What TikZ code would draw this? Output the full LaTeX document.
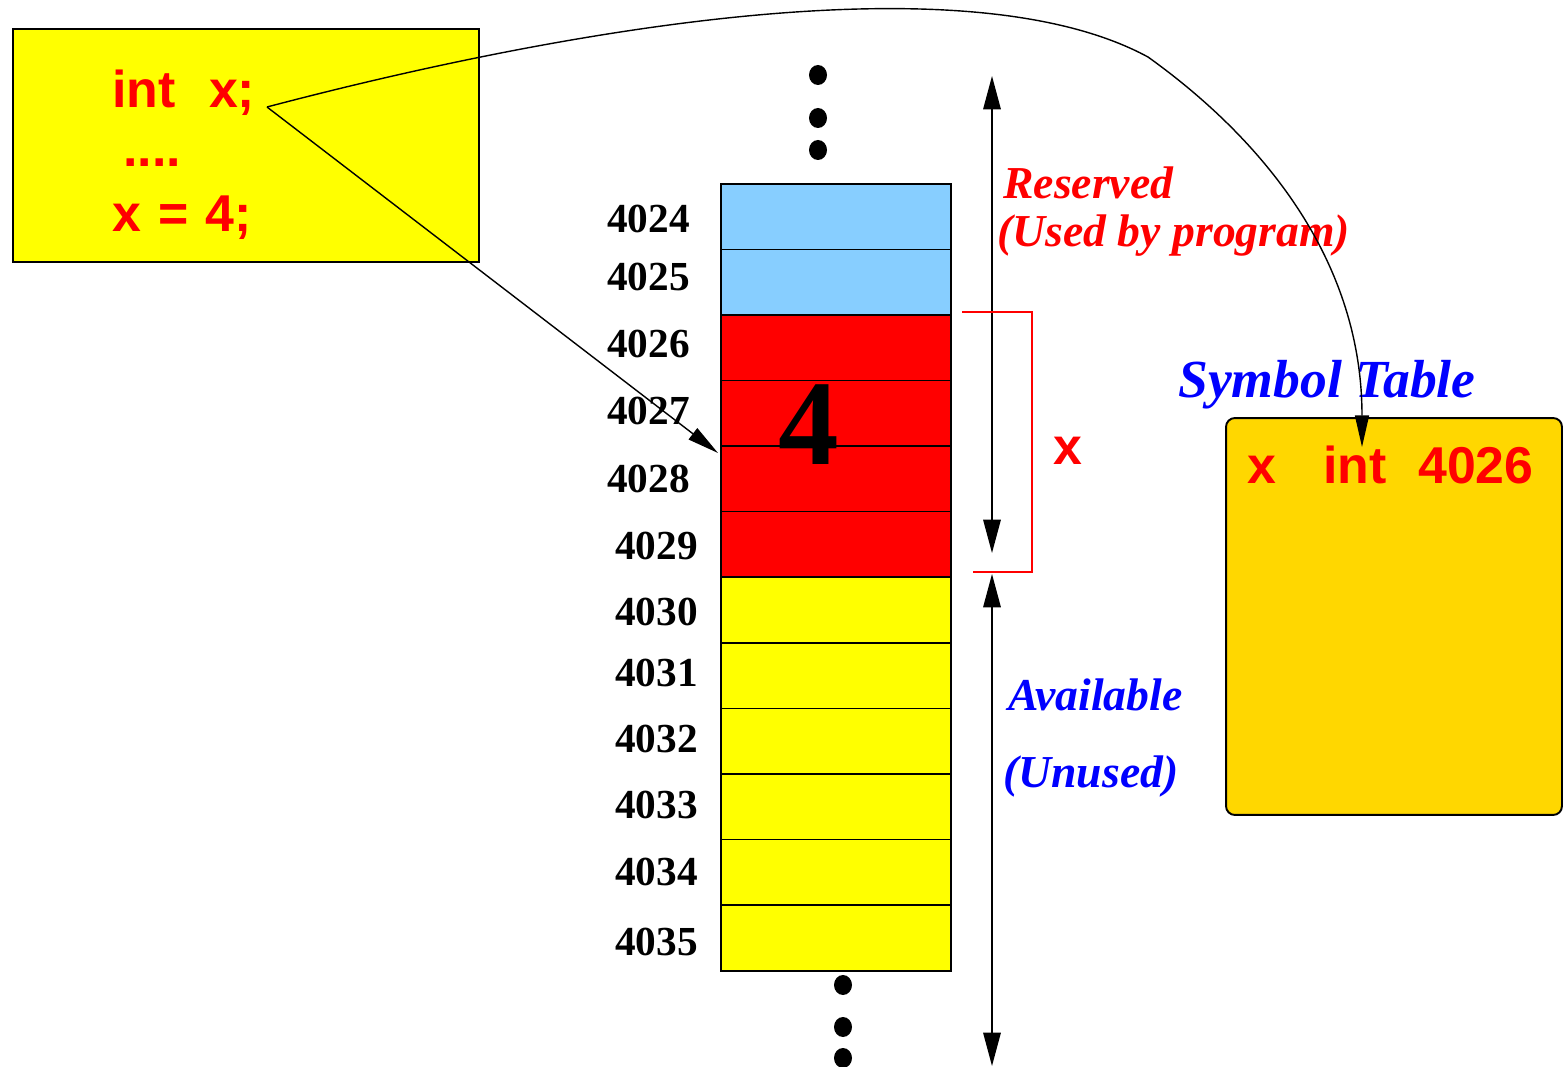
\documentclass[tikz,border=0pt]{standalone}
\usepackage{fontspec}
\setmainfont{Liberation Serif}
\newfontfamily\hv{Liberation Sans}
\usetikzlibrary{arrows.meta}
\definecolor{ltblue}{HTML}{87CEFF}
\definecolor{gold}{HTML}{FFD700}
\definecolor{myred}{HTML}{FF0000}
\definecolor{myyellow}{HTML}{FFFF00}
\definecolor{myblue}{HTML}{0000FF}
\begin{document}
\begin{tikzpicture}[x=0.02cm,y=-0.02cm,
  codetxt/.style={anchor=base west,inner sep=0pt,text=myred,font=\hv\bfseries\fontsize{29.5}{30}\selectfont},
  addr/.style={anchor=base east,inner sep=0pt,font=\bfseries\fontsize{23.5}{24}\selectfont},
  note/.style={anchor=base west,inner sep=0pt,font=\bfseries\itshape\fontsize{26}{26}\selectfont},
  cell/.style={draw=black,line width=0.9pt,minimum width=4.6cm,minimum height=1.3117cm,inner sep=0pt,anchor=north west},
  arr/.style={line width=0.8pt,-{Triangle[length=18pt,width=8pt]}},
  darr/.style={line width=0.8pt,{Triangle[length=19pt,width=10pt]}-{Triangle[length=19pt,width=10pt]}},
  dotmark/.style={fill=black}
]
\useasboundingbox (0,0) rectangle (1563,1067);

% code box
\node[draw,fill=myyellow,line width=1.1pt,minimum width=9.32cm,minimum height=4.66cm,inner sep=0pt] (code) at (246,145.5) {};
\node[codetxt] (decl) at (112,108) {int\hspace{19pt}x;};
\node[codetxt] (dots) at (123,167) {....};
\node[codetxt] (assign) at (112,232) {x\hspace{1.5pt} = \hspace{1.5pt}4;};

% memory cells
\foreach \i/\c in {0/ltblue,1/ltblue,2/myred,3/myred,4/myred,5/myred,6/myyellow,7/myyellow,8/myyellow,9/myyellow,10/myyellow,11/myyellow}
  \node[cell,fill=\c] (c\i) at (720,{183+\i*65.58}) {};

% addresses
\foreach \i/\n/\x/\y in {0/4024/690/233,1/4025/690/291,2/4026/690/358,3/4027/690/425,4/4028/690/493,5/4029/698/560,6/4030/698/625,7/4031/698/686,8/4032/698/752,9/4033/698/818,10/4034/698/885,11/4035/698/955}
  \node[addr] (l\i) at (\x,\y) {\n};

\node[anchor=base,inner sep=0pt,font=\bfseries\fontsize{69}{69}\selectfont] (four) at (809,465) {4};

% dots
\fill[dotmark] (818,75) ellipse [x radius=0.18cm, y radius=0.2cm];
\fill[dotmark] (818,118) ellipse [x radius=0.18cm, y radius=0.2cm];
\fill[dotmark] (818,150) ellipse [x radius=0.18cm, y radius=0.2cm];
\fill[dotmark] (843,985) ellipse [x radius=0.18cm, y radius=0.2cm];
\fill[dotmark] (843,1027) ellipse [x radius=0.18cm, y radius=0.2cm];
\fill[dotmark] (843,1058) ellipse [x radius=0.18cm, y radius=0.2cm];

% range arrows
\coordinate (rtop) at (992,76);
\coordinate (rbot) at (992,553);
\coordinate (atop) at (992,574);
\coordinate (abot) at (992,1066);
\draw[darr] (rtop) -- (rbot);
\draw[darr] (atop) -- (abot);

% red bracket
\draw[myred,line width=0.7pt] (962,312) -- (1032,312) -- (1032,572) -- (973,572);
\node[codetxt] (xlab) at (1053,465) {x};

% notes
\node[note,text=myred] (res1) at (1003,199) {Reserved};
\node[note,text=myred] (res2) at (997,247) {(Used by program)};
\node[note,text=myblue] (avail1) at (1008,710) {Available};
\node[note,text=myblue] (avail2) at (1003,787) {(Unused)};

% symbol table
\node[note,text=myblue,font=\bfseries\itshape\fontsize{30.5}{30}\selectfont] (sthead) at (1178,398) {Symbol Table};
\node[draw,fill=gold,rounded corners=5pt,line width=1.1pt,minimum width=6.72cm,minimum height=7.94cm,inner sep=0pt] (symtab) at (1394,616.5) {};
\node[codetxt] (sx) at (1247,484) {x};
\node[codetxt] (sint) at (1323,484) {int};
\node[codetxt] (saddr) at (1418,484) {4026};

% connectors
\coordinate (src) at (267,107);
\coordinate (tgt) at (718,453);
\coordinate (bend) at (1148,57);
\coordinate (stin) at (1362,447);
\draw[arr] (src) -- (tgt);
\draw[arr] (src) .. controls (540,35) and (960,-45) .. (bend) .. controls (1250,130) and (1362,250) .. (stin);
\end{tikzpicture}
\end{document}
